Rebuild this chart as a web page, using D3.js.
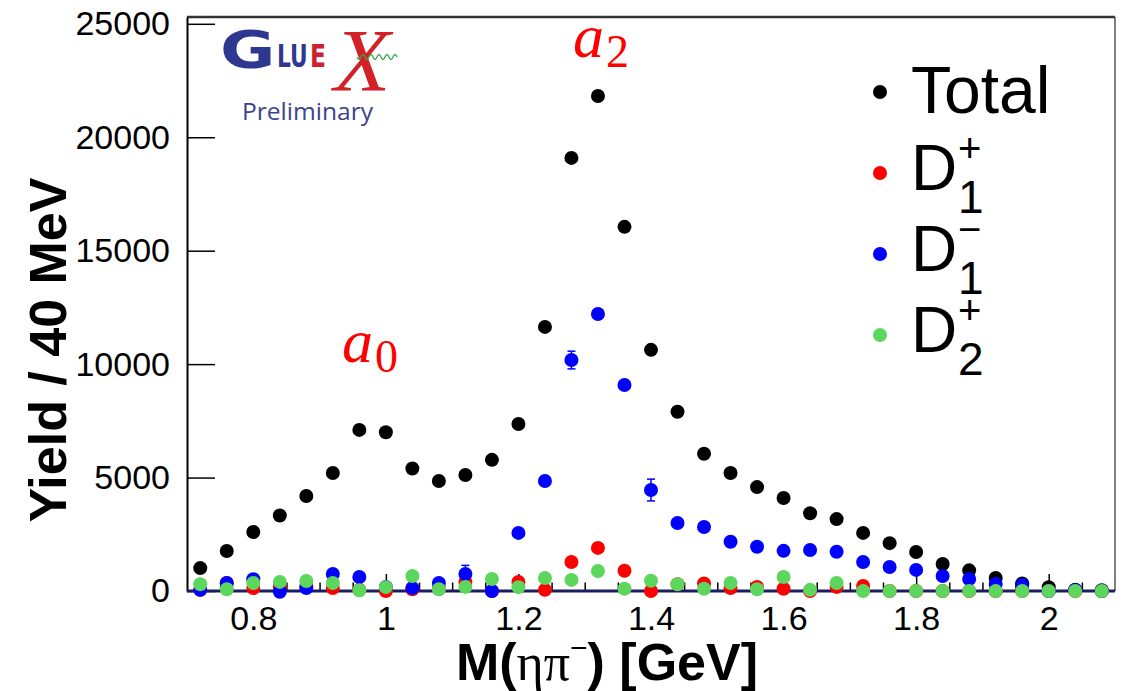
<!DOCTYPE html>
<html>
<head>
<meta charset="utf-8">
<script src="https://cdn.jsdelivr.net/npm/d3@7"></script>
<style>
  html, body { margin: 0; padding: 0; background: #fff; }
  svg { display: block; }
</style>
</head>
<body>
<svg id="chart" width="1129" height="691"></svg>
<script>
// ---- data ----
const binCenters = [0.72,0.76,0.80,0.84,0.88,0.92,0.96,1.00,1.04,1.08,1.12,1.16,1.20,1.24,1.28,1.32,1.36,1.40,1.44,1.48,1.52,1.56,1.60,1.64,1.68,1.72,1.76,1.80,1.84,1.88,1.92,1.96,2.00,2.04,2.08];
const totalYield = [1010,1760,2600,3330,4190,5200,7100,7000,5400,4850,5110,5780,7360,11640,19090,21820,16050,10630,7900,6050,5200,4580,4100,3430,3170,2560,2110,1720,1190,910,570,330,170,60,30];
const d1pYield   = [50,350,130,200,200,130,50,0,80,100,400,0,400,50,1280,1900,890,0,300,330,130,180,100,0,180,220,0,0,0,0,0,0,0,0,0];
const d1mYield   = [50,350,520,-30,130,750,620,180,130,350,750,0,2560,4850,10180,12210,9080,4450,3000,2820,2170,1950,1770,1810,1730,1280,1060,930,660,530,310,260,0,30,0];
const d2pYield   = [300,80,350,400,440,350,30,170,660,80,180,530,170,570,490,880,100,450,300,100,350,80,620,50,350,0,0,0,0,0,0,0,0,0,0];
const totalErr   = [90,110,130,140,150,160,180,180,160,150,160,170,190,220,270,290,260,220,190,170,160,150,140,130,120,110,100,90,80,70,60,50,40,30,20];
const d1pErr     = [80,100,100,100,100,100,90,90,90,90,110,90,110,100,180,210,150,100,110,110,100,100,100,90,100,100,60,50,40,40,30,30,20,20,10];
const d1mErr     = [120,180,200,150,160,290,240,160,160,220,380,150,260,300,390,300,300,480,220,220,200,190,180,180,180,160,150,140,120,110,90,80,40,30,20];
const d2pErr     = [90,80,100,110,110,100,80,90,120,80,90,110,90,120,120,150,80,110,100,80,100,80,120,70,100,40,30,30,20,20,20,20,10,10,10];

const xMajorTicks = [0.8, 1.0, 1.2, 1.4, 1.6, 1.8, 2.0];
const xTickLabels = ["0.8", "1", "1.2", "1.4", "1.6", "1.8", "2"];
const yMajorTicks = [0, 5000, 10000, 15000, 20000, 25000];
const yTickLabels = ["0", "5000", "10000", "15000", "20000", "25000"];

const seriesNames  = ["Total", "D", "D", "D"];
const seriesSub    = ["", "1", "1", "2"];
const seriesSup    = ["", "+", "\u2212", "+"];
const seriesColors = ["#000000", "#ff0000", "#0000ff", "#5cd65c"];

// ---- layout ----
const svg = d3.select("#chart");
const W = 1129, H = 691;
const frame = { left: 187, right: 1115, top: 17, bottom: 591 };
svg.append("rect").attr("width", W).attr("height", H).attr("fill", "#fff");

const x = d3.scaleLinear().domain([0.7, 2.1]).range([frame.left, frame.right]);
const y = d3.scaleLinear().domain([0, 25300]).range([frame.bottom, frame.top]);

const sansFont = "'Liberation Sans', Arial, Helvetica, sans-serif";
const serifFont = "'Liberation Serif', 'Times New Roman', serif";

// frame top/right
svg.append("line").attr("x1", frame.left).attr("x2", frame.right).attr("y1", frame.top).attr("y2", frame.top)
  .attr("stroke", "#333").attr("stroke-width", 2.5);
svg.append("line").attr("x1", frame.right).attr("x2", frame.right).attr("y1", frame.top).attr("y2", frame.bottom)
  .attr("stroke", "#555").attr("stroke-width", 1.5);

// y axis
const yAxis = d3.axisLeft(y).tickValues(yMajorTicks)
  .tickFormat((d, i) => yTickLabels[i]).tickSizeInner(-28).tickSizeOuter(0).tickPadding(17);
const gy = svg.append("g").attr("transform", `translate(${frame.left},0)`).call(yAxis);
gy.select(".domain").attr("stroke", "#000").attr("stroke-width", 2);
gy.selectAll(".tick line").attr("stroke", "#000").attr("stroke-width", 1.5);
gy.selectAll(".tick text").attr("font-family", sansFont).attr("font-size", 34).attr("fill", "#000");

// x axis minor ticks
const xMinor = d3.range(0.75, 2.1, 0.05).filter(v => !xMajorTicks.some(m => Math.abs(m - v) < 1e-6));
const xAxisMinor = d3.axisBottom(x).tickValues(xMinor).tickFormat("").tickSizeInner(-8.5).tickSizeOuter(0);
const gxm = svg.append("g").attr("transform", `translate(0,${frame.bottom})`).call(xAxisMinor);
gxm.select(".domain").remove();
gxm.selectAll(".tick line").attr("stroke", "#000").attr("stroke-width", 1.5);

// x axis major
const xAxis = d3.axisBottom(x).tickValues(xMajorTicks)
  .tickFormat((d, i) => xTickLabels[i]).tickSizeInner(-17).tickSizeOuter(0).tickPadding(15);
const gx = svg.append("g").attr("transform", `translate(0,${frame.bottom})`).call(xAxis);
gx.select(".domain").remove();
gx.selectAll(".tick line").attr("stroke", "#000").attr("stroke-width", 1.5);
gx.selectAll(".tick text").attr("font-family", sansFont).attr("font-size", 34).attr("fill", "#000");

// zero line (dark navy)
svg.append("line").attr("x1", x(0.7)).attr("x2", x(2.1)).attr("y1", y(0)).attr("y2", y(0))
  .attr("stroke", "#1c1c60").attr("stroke-width", 3);

// ---- data points ----
const R = 7;
const seriesVals = [totalYield, d1pYield, d1mYield, d2pYield];
const seriesErrs = [totalErr, d1pErr, d1mErr, d2pErr];
seriesVals.forEach((vals, s) => {
  const g = svg.append("g");
  const pts = binCenters.map((b, i) => ({ b, v: vals[i], e: seriesErrs[s][i] }));
  // error bars drawn only where they stick out of the marker
  pts.forEach(p => {
    const cy = y(p.v), cx = x(p.b);
    const ePx = y(0) - y(p.e);
    if (ePx > R) {
      g.append("line").attr("x1", cx).attr("x2", cx).attr("y1", cy - ePx).attr("y2", cy + ePx)
        .attr("stroke", seriesColors[s]).attr("stroke-width", 1.5);
      [cy - ePx, cy + ePx].forEach(yy => g.append("line")
        .attr("x1", cx - 4).attr("x2", cx + 4).attr("y1", yy).attr("y2", yy)
        .attr("stroke", seriesColors[s]).attr("stroke-width", 1.5));
    }
  });
  g.selectAll("circle").data(pts).join("circle")
    .attr("cx", d => x(d.b)).attr("cy", d => y(d.v)).attr("r", R)
    .attr("fill", seriesColors[s]);
});

// ---- axis titles ----
svg.append("text")
  .attr("transform", `translate(66,${(frame.top + frame.bottom) / 2 + 46}) rotate(-90)`)
  .attr("text-anchor", "middle").attr("font-family", sansFont).attr("font-weight", "bold")
  .attr("font-size", 52).attr("fill", "#000").text("Yield / 40 MeV");

const xt = svg.append("text").attr("x", 607).attr("y", 680).attr("text-anchor", "middle")
  .attr("font-family", sansFont).attr("font-weight", "bold").attr("font-size", 52).attr("fill", "#000");
xt.append("tspan").text("M(");
xt.append("tspan").attr("font-family", serifFont).attr("font-weight", "normal").text("\u03B7\u03C0");
xt.append("tspan").attr("font-size", 30).attr("dy", -22).attr("font-weight", "normal").text("\u2212");
xt.append("tspan").attr("dy", 22).text(") [GeV]");

// ---- resonance labels (a with subscript in one text element) ----
function resLabel(xa, ya, sub) {
  const t = svg.append("text").attr("x", xa).attr("y", ya).attr("font-family", serifFont)
    .attr("fill", "#ff0000");
  t.append("tspan").attr("font-style", "italic").attr("font-size", 62).text("a");
  t.append("tspan").attr("x", xa + 33).attr("dy", 10).attr("font-size", 46).text(sub);
}
resLabel(342, 362, "0");
resLabel(573, 57, "2");

// ---- legend ----
const legendY0 = 92, legendDy = 81;
seriesNames.forEach((name, i) => {
  const cy = legendY0 + i * legendDy;
  svg.append("circle").attr("cx", 880).attr("cy", cy).attr("r", R).attr("fill", seriesColors[i]);
  const t = svg.append("text").attr("x", 911).attr("y", cy + (i === 0 ? 21 : 17))
    .attr("font-family", sansFont).attr("fill", "#000");
  t.append("tspan").attr("font-size", i === 0 ? 66 : 64).text(name);
  if (seriesSub[i]) {
    t.append("tspan").attr("x", 958).attr("y", cy + 40).attr("font-size", 46).text(seriesSub[i]);
    t.append("tspan").attr("x", 958).attr("y", cy - 11).attr("font-size", 40).text(seriesSup[i]);
  }
});

// ---- GlueX logo (glyph widths adjusted via transforms) ----
const logo = svg.append("g");
logo.append("text").attr("transform", "translate(220,68) scale(1.3,1)")
  .attr("font-family", "'DejaVu Sans', sans-serif").attr("font-weight", "bold")
  .attr("font-size", 52).attr("fill", "#2f3891").text("G");
logo.append("text").attr("transform", "translate(277,67) scale(0.68,1)")
  .attr("font-family", "'DejaVu Sans', sans-serif").attr("font-weight", "bold")
  .attr("font-size", 32).attr("fill", "#2f3891").text("LU");
logo.append("text").attr("transform", "translate(310,67) scale(0.73,1)")
  .attr("font-family", "'DejaVu Sans', sans-serif").attr("font-weight", "bold")
  .attr("font-size", 32).attr("fill", "#cf2030").text("E");
logo.append("text").attr("transform", "translate(334,90) scale(1.05,1)")
  .attr("font-family", serifFont).attr("font-style", "italic")
  .attr("font-size", 88).attr("fill", "#d42027").text("X");
// wavy gluon line
const wave = d3.range(0, 41).map(k => [357 + k, 57 + 2.5 * Math.sin(k / 40 * Math.PI * 10)]);
logo.append("path").attr("d", d3.line()(wave)).attr("fill", "none").attr("stroke", "#3aa64a").attr("stroke-width", 1.3);
logo.append("text").attr("x", 242).attr("y", 120).attr("font-family", "'Open Sans', 'Lato', sans-serif")
  .attr("font-size", 24).attr("fill", "#3d4290")
  .attr("textLength", 131).attr("lengthAdjust", "spacingAndGlyphs").text("Preliminary");
</script>
</body>
</html>
